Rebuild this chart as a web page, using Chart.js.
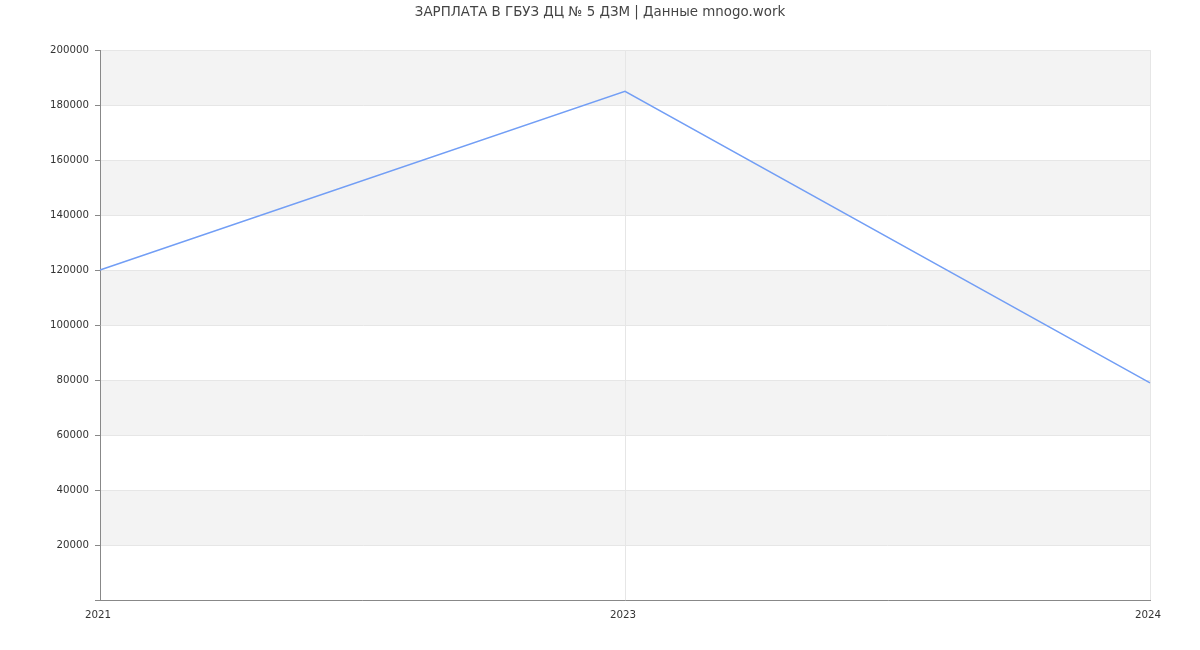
<!DOCTYPE html>
<html>
<head>
<meta charset="utf-8">
<script src="https://cdn.jsdelivr.net/npm/chart.js@4.4.0/dist/chart.umd.min.js"></script>
<style>
  html, body { margin: 0; padding: 0; background: #fff; }
  #wrap { width: 1200px; height: 650px; }
</style>
</head>
<body>
<div id="wrap"><canvas id="c" width="1200" height="650"></canvas></div>
<script>
const titleText = 'ЗАРПЛАТА В ГБУЗ ДЦ № 5 ДЗМ | Данные mnogo.work';
const years = ['2021', '2023', '2024'];
const salary = [120000, 185000, 79000];
const yMin = 0, yMax = 200000, yStep = 20000;

const bandPlugin = {
  id: 'bands',
  beforeDraw(chart) {
    const { ctx, chartArea, scales } = chart;
    const y = scales.y;
    ctx.save();
    ctx.fillStyle = '#f3f3f3';
    for (let v = yMax; v > yMin; v -= 2 * yStep) {
      const top = y.getPixelForValue(v);
      const bot = y.getPixelForValue(v - yStep);
      ctx.fillRect(chartArea.left, top, chartArea.right - chartArea.left, bot - top);
    }
    ctx.restore();
  }
};

new Chart(document.getElementById('c'), {
  type: 'line',
  data: {
    labels: years,
    datasets: [{
      data: salary,
      borderColor: 'rgb(114,158,245)',
      borderWidth: 1.5,
      pointRadius: 0,
      fill: false,
      tension: 0
    }]
  },
  options: {
    responsive: false,
    animation: false,
    layout: { padding: 0 },
    plugins: {
      legend: { display: false },
      tooltip: { enabled: false },
      title: {
        display: true,
        text: titleText,
        color: '#444',
        font: { family: 'DejaVu Sans', size: 13.4, weight: 'normal' },
        padding: { top: 4.5, bottom: 29.5 }
      }
    },
    scales: {
      x: {
        type: 'category',
        offset: false,
        border: { color: '#888', width: 1 },
        grid: { color: '#e6e6e6', drawTicks: false },
        ticks: {
          color: '#333',
          font: { family: 'DejaVu Sans', size: 10.3 },
          padding: 9,
          labelOffset: -2,
          maxRotation: 0
        },
        afterFit(s) { s.height = 50; }
      },
      y: {
        min: yMin,
        max: yMax,
        border: { color: '#888', width: 1 },
        grid: { color: '#e6e6e6', tickLength: 5, tickColor: '#888' },
        ticks: {
          stepSize: yStep,
          color: '#333',
          font: { family: 'DejaVu Sans', size: 10.2 },
          padding: 6,
          callback: v => v === 0 ? '' : String(v)
        },
        afterFit(s) { s.width = 100; }
      },
      yRight: {
        position: 'right',
        display: true,
        grid: { display: false, drawTicks: false },
        border: { display: false },
        ticks: { display: false },
        afterFit(s) { s.width = 50; }
      }
    }
  },
  plugins: [bandPlugin]
});
</script>
</body>
</html>
